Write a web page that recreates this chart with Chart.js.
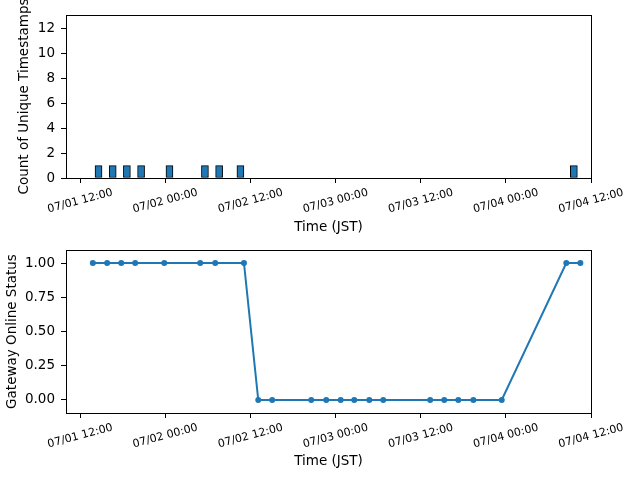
<!DOCTYPE html>
<html>
<head>
<meta charset="utf-8">
<script src="https://cdn.jsdelivr.net/npm/chart.js@4.4.0/dist/chart.umd.min.js"></script>
<style>
  body { margin: 0; background: #fff; }
  canvas { display: block; }
</style>
</head>
<body>
<canvas id="countChart" width="640" height="240"></canvas>
<canvas id="statusChart" width="640" height="240"></canvas>
<script>
// hourly histogram bins (start of bin) that hold timestamps
const binStarts = ["07/01 14:05", "07/01 16:05", "07/01 18:05", "07/01 20:05", "07/02 00:05",
                   "07/02 05:05", "07/02 07:05", "07/02 10:05", "07/04 09:05"];
const binCounts = [1, 1, 1, 1, 1, 1, 1, 1, 1];

// gateway status samples
const statusTimes = ["07/01 13:47", "07/01 15:48", "07/01 17:47", "07/01 19:45", "07/01 23:51",
                     "07/02 04:55", "07/02 07:02", "07/02 11:05", "07/02 13:06", "07/02 15:04",
                     "07/02 20:34", "07/02 22:41", "07/03 00:43", "07/03 02:38", "07/03 04:45",
                     "07/03 06:43", "07/03 13:20", "07/03 15:19", "07/03 17:18", "07/03 19:25",
                     "07/03 23:25", "07/04 08:31", "07/04 10:30"];
const statusValues = [1, 1, 1, 1, 1, 1, 1, 1, 0, 0, 0, 0, 0, 0, 0, 0, 0, 0, 0, 0, 0, 1, 1];

const xRange = ["07/01 10:00", "07/04 12:00"];
const binHours = 1;

const BLUE = '#1f77b4';
const FONT = "'DejaVu Sans', sans-serif";

function toHours(s) {
  const [md, hm] = s.split(' ');
  const d = Number(md.split('/')[1]);
  const [h, m] = hm.split(':').map(Number);
  return (d - 1) * 24 + h + m / 60;
}
function fmtTick(v) {
  const d = Math.floor(v / 24) + 1;
  const h = Math.round(v - (d - 1) * 24);
  return '07/' + String(d).padStart(2, '0') + ' ' + String(h).padStart(2, '0') + ':00';
}

Chart.defaults.color = '#000';
Chart.defaults.font.family = FONT;

// frame around plot + centred, rotated date labels (matplotlib style)
const framePlugin = {
  id: 'frame',
  afterDraw(chart) {
    const {ctx, chartArea: a} = chart;
    const xs = chart.scales.x;
    ctx.save();
    ctx.strokeStyle = '#000';
    ctx.lineWidth = 1;
    ctx.strokeRect(Math.round(a.left) + 0.5, Math.round(a.top) + 0.5,
                   Math.round(a.right - a.left), Math.round(a.bottom - a.top));
    ctx.font = '11px ' + FONT;
    ctx.fillStyle = '#000';
    ctx.textAlign = 'center';
    ctx.textBaseline = 'middle';
    xs.ticks.forEach(t => {
      const px = xs.getPixelForValue(t.value);
      ctx.save();
      ctx.translate(px, a.bottom + 23);
      ctx.rotate(-15 * Math.PI / 180);
      ctx.fillText(fmtTick(t.value), 0, 0);
      ctx.restore();
    });
    ctx.restore();
  }
};

function xScale(titlePad, height) {
  return {
    type: 'linear',
    min: toHours(xRange[0]),
    max: toHours(xRange[1]),
    offset: false,
    grid: { drawOnChartArea: false, offset: false, tickLength: 5, tickColor: '#000', tickWidth: 1 },
    border: { display: false },
    ticks: { display: false, stepSize: 12, includeBounds: false, autoSkip: false },
    title: { display: true, text: 'Time (JST)', font: { size: 13.5 }, padding: { top: 0, bottom: titlePad } },
    afterFit(s) { s.height = height; s.paddingLeft = 0; s.paddingRight = 0; }
  };
}
function yScale(opts, title, titlePad) {
  return Object.assign({
    grid: { drawOnChartArea: false, tickLength: 5, tickColor: '#000', tickWidth: 1 },
    border: { display: false },
    title: { display: true, text: title, font: { size: 13.5 }, padding: { top: titlePad, bottom: 0 } },
    afterFit(s) { s.width = 66; s.paddingTop = 0; s.paddingBottom = 0; }
  }, opts);
}

new Chart(document.getElementById('countChart'), {
  type: 'bar',
  data: {
    datasets: [{
      data: binStarts.map((t, i) => ({ x: toHours(t) + binHours / 2, y: binCounts[i] })),
      backgroundColor: BLUE,
      borderColor: '#000',
      borderWidth: 1,
      borderSkipped: false,
      barThickness: 7
    }]
  },
  options: {
    responsive: false,
    animation: false,
    devicePixelRatio: 1,
    layout: { padding: { top: 15, right: 49, left: 0, bottom: 0 } },
    plugins: { legend: { display: false }, tooltip: { enabled: false } },
    scales: {
      x: xScale(4.9, 62),
      y: yScale({
        min: 0, max: 13.1,
        ticks: { stepSize: 2, includeBounds: false, font: { size: 13.5 }, padding: 6 }
      }, 'Count of Unique Timestamps', 15.9)
    }
  },
  plugins: [framePlugin]
});

new Chart(document.getElementById('statusChart'), {
  type: 'line',
  data: {
    datasets: [{
      data: statusTimes.map((t, i) => ({ x: toHours(t), y: statusValues[i] })),
      borderColor: BLUE,
      backgroundColor: BLUE,
      borderWidth: 2,
      tension: 0,
      pointRadius: 3,
      pointBorderWidth: 0,
      pointBackgroundColor: BLUE,
      fill: false
    }]
  },
  options: {
    responsive: false,
    animation: false,
    devicePixelRatio: 1,
    layout: { padding: { top: 10, right: 49, left: 0, bottom: 0 } },
    plugins: { legend: { display: false }, tooltip: { enabled: false } },
    scales: {
      x: xScale(10.9, 67),
      y: yScale({
        min: -0.095, max: 1.095,
        ticks: { stepSize: 0.25, includeBounds: false, font: { size: 13.5 }, padding: 6,
                 callback: v => v.toFixed(2) }
      }, 'Gateway Online Status', 3.9)
    }
  },
  plugins: [framePlugin]
});
</script>
</body>
</html>
